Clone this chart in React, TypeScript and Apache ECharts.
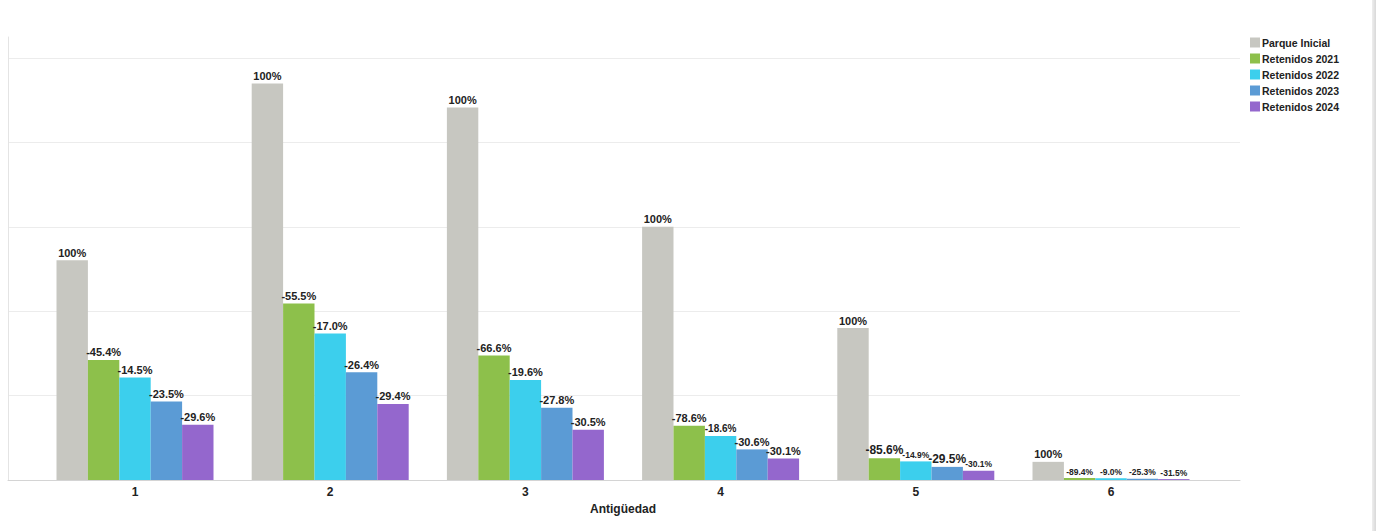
import React, { useEffect, useRef } from "react";
import * as echarts from "echarts";

const categories = ["1", "2", "3", "4", "5", "6"];
const seriesNames = ["Parque Inicial", "Retenidos 2021", "Retenidos 2022", "Retenidos 2023", "Retenidos 2024"];

const parqueInicial = [52100, 94000, 88300, 60000, 36000, 4300];
const retenidos2021 = [28450, 41830, 29490, 12840, 5180, 456];
const retenidos2022 = [24320, 34720, 23710, 10450, 4410, 415];
const retenidos2023 = [18610, 25550, 17120, 7250, 3110, 310];
const retenidos2024 = [13100, 18040, 11900, 5070, 2170, 212];

const labelsParque = ["100%", "100%", "100%", "100%", "100%", "100%"];
const labels2021 = ["-45.4%", "-55.5%", "-66.6%", "-78.6%", "-85.6%", "-89.4%"];
const labels2022 = ["-14.5%", "-17.0%", "-19.6%", "-18.6%", "-14.9%", "-9.0%"];
const labels2023 = ["-23.5%", "-26.4%", "-27.8%", "-30.6%", "-29.5%", "-25.3%"];
const labels2024 = ["-29.6%", "-29.4%", "-30.5%", "-30.1%", "-30.1%", "-31.5%"];

// label font sizes (style)
const sizesParque = [11, 11, 11, 11, 11, 11];
const sizes2021 = [11, 11, 11, 11, 12, 8.5];
const sizes2022 = [11, 11, 11, 10, 8.5, 8.5];
const sizes2023 = [11, 11, 11, 11, 12, 8.5];
const sizes2024 = [11, 11, 11, 11, 8.5, 8.5];

const colors = ["#c7c7c1", "#8dc04b", "#3ccfed", "#5b9bd5", "#9467cd"];
const FONT = "'Liberation Sans', Arial, sans-serif";

export default function App() {
  const ref = useRef<HTMLDivElement>(null);
  useEffect(() => {
    document.body.style.margin = "0";
    const chart = echarts.init(ref.current!, null, { renderer: "svg" });
    const values = [parqueInicial, retenidos2021, retenidos2022, retenidos2023, retenidos2024];
    const labels = [labelsParque, labels2021, labels2022, labels2023, labels2024];
    const sizes = [sizesParque, sizes2021, sizes2022, sizes2023, sizes2024];
    const yMax = 105000;
    const series = values.map((vals, si) => ({
      name: seriesNames[si],
      type: "bar",
      xAxisIndex: 0,
      yAxisIndex: 0,
      barWidth: 31.4,
      barGap: "0%",
      itemStyle: { color: colors[si] },
      data: vals.map((v, i) => ({
        value: v,
        label: {
          show: true,
          position: "top",
          distance: 2,
          formatter: labels[si][i],
          fontSize: sizes[si][i],
          fontWeight: "bold",
          fontFamily: FONT,
          color: "#222",
        },
      })),
    }));
    chart.setOption({
      animation: false,
      backgroundColor: "#fff",
      color: colors,
      legend: {
        orient: "vertical",
        left: 1245,
        top: 32,
        itemWidth: 10,
        itemHeight: 10,
        itemGap: 5,
        icon: "rect",
        textStyle: { fontSize: 10.5, fontWeight: "bold", fontFamily: FONT, color: "#222", padding: [0, 0, 0, -3] },
        data: seriesNames,
      },
      grid: [
        { left: 37.4, right: 163.4, top: 37, bottom: 51 },
        { left: 8, right: 132, top: 37, bottom: 51 },
      ],
      xAxis: [
        {
          type: "category",
          gridIndex: 0,
          data: categories,
          axisLine: { show: false },
          axisTick: { show: false },
          axisLabel: { margin: 6, fontSize: 12, fontWeight: "bold", fontFamily: FONT, color: "#222" },
          name: "Antigüedad",
          nameLocation: "middle",
          nameGap: 23,
          nameTextStyle: { fontSize: 12, fontWeight: "bold", fontFamily: FONT, color: "#222" },
        },
        {
          type: "category",
          gridIndex: 1,
          data: categories,
          axisLine: { show: true, lineStyle: { color: "#d4d4d4", width: 1 } },
          axisTick: { show: false },
          axisLabel: { show: false },
        },
      ],
      yAxis: [
        {
          type: "value",
          gridIndex: 0,
          min: 0,
          max: yMax,
          interval: 20000,
          show: false,
          splitLine: { show: false },
        },
        {
          type: "value",
          gridIndex: 1,
          min: 0,
          max: yMax,
          interval: 20000,
          axisLine: { show: true, lineStyle: { color: "#e4e4e4" } },
          axisTick: { show: false },
          axisLabel: { show: false },
          splitLine: { show: true, showMaxLine: false, lineStyle: { color: "#ececec" } },
        },
      ],
      series,
    });
    return () => chart.dispose();
  }, []);
  return (
    <div style={{ position: "relative", width: 1376, height: 531, background: "#fff", overflow: "hidden" }}>
      <div style={{ position: "absolute", left: 0, top: 0, width: 1376, height: 3, background: "linear-gradient(#dcdcdc,#eeeeee)" }} />
      <div style={{ position: "absolute", right: 0, top: 0, width: 4, height: 531, background: "linear-gradient(90deg,#eeeeee,#d8d8d8)" }} />
      <div ref={ref} style={{ position: "absolute", left: 0, top: 0, width: 1372, height: 531 }} />
    </div>
  );
}
